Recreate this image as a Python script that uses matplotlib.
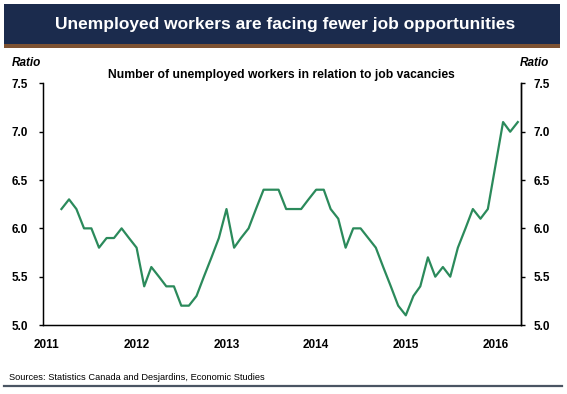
import pandas as pd
import matplotlib
matplotlib.use("Agg")
import matplotlib.pyplot as plt
import matplotlib.dates as mdates
from matplotlib.patches import Rectangle
from matplotlib.lines import Line2D

plt.rcParams["font.family"] = ["Liberation Sans", "DejaVu Sans"]

# monthly ratio of unemployed workers to job vacancies, Mar 2011 - Apr 2016
months = pd.date_range("2011-03-01", periods=62, freq="MS")
ratio = [6.2, 6.3, 6.2, 6.0, 6.0, 5.8, 5.9, 5.9, 6.0, 5.9,
         5.8, 5.4, 5.6, 5.5, 5.4, 5.4, 5.2, 5.2, 5.3, 5.5,
         5.7, 5.9, 6.2, 5.8, 5.9, 6.0, 6.2, 6.4, 6.4, 6.4,
         6.2, 6.2, 6.2, 6.3, 6.4, 6.4, 6.2, 6.1, 5.8, 6.0,
         6.0, 5.9, 5.8, 5.6, 5.4, 5.2, 5.1, 5.3, 5.4, 5.7,
         5.5, 5.6, 5.5, 5.8, 6.0, 6.2, 6.1, 6.2, 6.65, 7.1,
         7.0, 7.1]
years = [2011, 2012, 2013, 2014, 2015, 2016]
yticks = [5.0, 5.5, 6.0, 6.5, 7.0, 7.5]

NAVY = "#1b2b4d"
BROWN = "#7d5232"
GREEN = "#2b8a5b"

W, H = 567, 394
fig = plt.figure(figsize=(W / 100, H / 100), dpi=100)

# header band
fig.add_artist(Rectangle((4 / W, 1 - 44 / H), 556 / W, 40 / H,
                         transform=fig.transFigure, color=NAVY, lw=0))
fig.add_artist(Rectangle((4 / W, 1 - 48 / H), 556 / W, 4 / H,
                         transform=fig.transFigure, color=BROWN, lw=0))
fig.text(285 / W, 1 - 24 / H, "Unemployed workers are facing fewer job opportunities",
         color="white", fontsize=12.5, fontweight="bold", ha="center", va="center")

ax = fig.add_axes([43 / W, 1 - 325 / H, 478 / W, 241.6 / H])
ax.plot(months, ratio, color=GREEN, lw=1.6)
ax.set_ylim(5.0, 7.5)
ax.set_xlim(pd.Timestamp("2010-12-16"), pd.Timestamp("2016-04-14"))
ax.set_yticks(yticks)
ax.set_yticklabels([f"{v:.1f}" for v in yticks])
ax.set_xticks([pd.Timestamp(f"{y}-01-01") for y in years])
ax.xaxis.set_major_formatter(mdates.DateFormatter("%Y"))
ax.spines["top"].set_visible(False)
for s in ["left", "right", "bottom"]:
    ax.spines[s].set_linewidth(1.0)
ax.tick_params(axis="x", length=0, pad=10, labelsize=8.5)
ax.tick_params(axis="y", length=3, width=1.0, pad=8, labelsize=8.5, direction="out")
for lab in ax.get_xticklabels() + ax.get_yticklabels():
    lab.set_fontweight("bold")

ax2 = ax.twinx()
ax2.set_ylim(5.0, 7.5)
ax2.set_yticks(yticks)
ax2.set_yticklabels([f"{v:.1f}" for v in yticks])
ax2.spines["top"].set_visible(False)
ax2.spines["right"].set_linewidth(1.0)
ax2.tick_params(axis="y", length=3, width=1.0, pad=6, labelsize=8.5, direction="out")
for lab in ax2.get_yticklabels():
    lab.set_fontweight("bold")

fig.text(12 / W, 1 - 63 / H, "Ratio", fontsize=8.5, fontweight="bold",
         style="italic", ha="left", va="center")
fig.text(549 / W, 1 - 63 / H, "Ratio", fontsize=8.5, fontweight="bold",
         style="italic", ha="right", va="center")
fig.text(281 / W, 1 - 75 / H, "Number of unemployed workers in relation to job vacancies",
         fontsize=8.7, fontweight="bold", ha="center", va="center")

fig.text(9 / W, 1 - 378 / H, "Sources: Statistics Canada and Desjardins, Economic Studies",
         fontsize=6.7, ha="left", va="center")
fig.add_artist(Line2D([4 / W, 562 / W], [1 - 386 / H, 1 - 386 / H],
                      transform=fig.transFigure, color="#4a5563", lw=1.6))

fig.savefig("out.png", dpi=100, facecolor="white")
